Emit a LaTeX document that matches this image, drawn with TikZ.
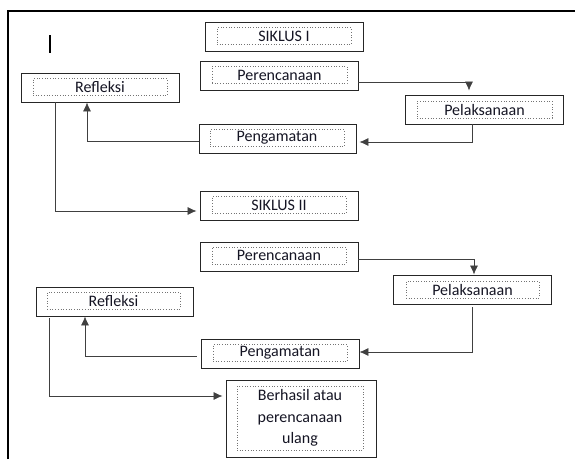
\documentclass[tikz,border=0pt]{standalone}
\usepackage{fontspec}
\setmainfont{Carlito}
\usetikzlibrary{arrows.meta}
\begin{document}
\begin{tikzpicture}[x=1pt,y=-1pt,
  outerbox/.style={draw=black!85,line width=0.9pt,minimum width=#1,minimum height=29pt,inner sep=0pt},
  innerbox/.style={draw=black!55,dotted,line width=0.7pt,minimum width=#1,minimum height=17pt,inner sep=0pt,
    font=\fontsize{16}{21.5}\selectfont,text={rgb,255:red,20;green,20;blue,35}},
  arr/.style={draw=black!75,line width=0.7pt,-{Latex[length=9pt,width=8pt]}}
]
\useasboundingbox (0,0) rectangle (575,459);
% frame
\draw[line width=1.6pt] (8,459) -- (8,11) -- (575,11);
% cursor mark
\draw[line width=1.3pt] (50,35) -- (50,53);

% ---- cycle I
\node[outerbox=158pt] (s1o) at (284,37) {};
\node[innerbox=134pt] (s1i) at (284,36) {SIKLUS I};
\node[outerbox=158pt] (per1o) at (279,76) {};
\node[innerbox=135pt] (per1i) at (279.5,75) {Perencanaan};
\node[outerbox=158pt] (ref1o) at (100,87.5) {};
\node[innerbox=134pt] (ref1i) at (100,87) {Refleksi};
\node[outerbox=158pt] (pel1o) at (484,109.5) {};
\node[innerbox=135pt] (pel1i) at (484.5,109.5) {Pelaksanaan};
\node[outerbox=157pt] (peng1o) at (277.5,139) {};
\node[innerbox=134pt] (peng1i) at (277,138) {Pengamatan};
\node[outerbox=158pt] (s2o) at (279,205.5) {};
\node[innerbox=134pt] (s2i) at (279,205) {SIKLUS II};

% ---- cycle II
\node[outerbox=158pt] (per2o) at (279,256.5) {};
\node[innerbox=134pt] (per2i) at (279,255.5) {Perencanaan};
\node[outerbox=157pt] (ref2o) at (114.5,301.5) {};
\node[innerbox=133pt] (ref2i) at (113.5,300.5) {Refleksi};
\node[outerbox=158pt] (pel2o) at (472,289.5) {};
\node[innerbox=133pt] (pel2i) at (472.5,289.5) {Pelaksanaan};
\node[outerbox=158pt] (peng2o) at (280,353.5) {};
\node[innerbox=134pt] (peng2i) at (280,353) {Pengamatan};
\node[outerbox=150pt,minimum height=77pt] (bero) at (301,418.5) {};
\node[innerbox=126pt,minimum height=64pt,align=center] (beri) at (300,418) {Berhasil atau\\perencanaan\\ulang};

% ---- connectors I
\draw[arr,shorten >=4pt] ([yshift=-6pt]per1o.east) -| ([xshift=-15pt]pel1o.north);
\draw[arr,shorten >=3pt] ([xshift=-12pt]pel1o.south) |- ([yshift=-3pt]peng1o.east);
\draw[arr] ([yshift=-2pt]peng1o.west) -| ([xshift=-13pt]ref1o.south);
\draw[arr,shorten >=3pt] ([xshift=-45pt]ref1o.south) |- ([yshift=-5.5pt]s2o.west);

% ---- connectors II
\draw[arr] ([yshift=-2.5pt]per2o.east) -| ([xshift=2pt]pel2o.north);
\draw[arr,shorten <=3pt] (pel2o.south) |- ([yshift=1.5pt]peng2o.east);
\draw[arr,shorten <=4pt] ([yshift=-2.5pt]peng2o.west) -| ([xshift=-29.5pt]ref2o.south);
\draw[arr,shorten <=2pt,shorten >=3pt] ([xshift=-65.5pt]ref2o.south) |- ([yshift=22.5pt]bero.west);
\end{tikzpicture}
\end{document}
